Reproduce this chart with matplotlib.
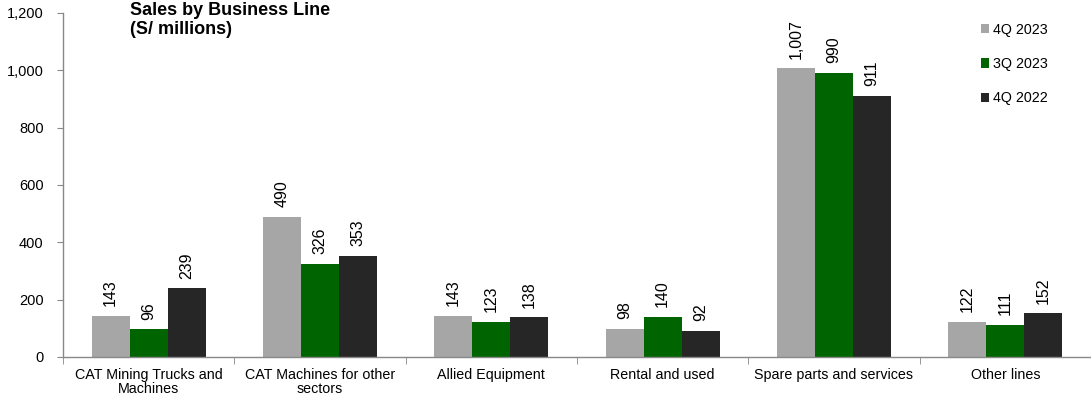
import matplotlib
matplotlib.use("Agg")
import matplotlib.pyplot as plt
from matplotlib.ticker import FuncFormatter, FixedLocator
from matplotlib.patches import Patch
import numpy as np

plt.rcParams['font.family'] = ['Liberation Sans', 'DejaVu Sans']

categories = ["CAT Mining Trucks and\nMachines", "CAT Machines for other\nsectors",
              "Allied Equipment", "Rental and used", "Spare parts and services",
              "Other lines"]
series_names = ["4Q 2023", "3Q 2023", "4Q 2022"]
q4_2023 = [143, 490, 143, 98, 1007, 122]
q3_2023 = [96, 326, 123, 140, 990, 111]
q4_2022 = [239, 353, 138, 92, 911, 152]
colors = ["#A6A6A6", "#006400", "#262626"]

fig = plt.figure(figsize=(10.91, 4.01), dpi=100)
ax = fig.add_axes([63/1091, 1-357/401, 1-63/1091, (357-13)/401])

x = np.arange(len(categories))
width = 0.222
for i, (vals, col, name) in enumerate(zip([q4_2023, q3_2023, q4_2022], colors, series_names)):
    pos = x + (i - 1) * width
    bars = ax.bar(pos, vals, width, color=col, edgecolor="none", label=name)
    for b, v in zip(bars, vals):
        ax.annotate(f"{v:,}", (b.get_x() + b.get_width()/2, v),
                    xytext=(0, 7), textcoords="offset points",
                    rotation=90, ha="center", va="bottom", fontsize=11.5, color="#000000")

ax.set_xlim(-0.5, len(categories) - 0.5)
ax.set_ylim(0, 1200)
ax.set_yticks(range(0, 1201, 200))
ax.yaxis.set_major_formatter(FuncFormatter(lambda v, p: f"{int(v):,}"))
ax.tick_params(axis="y", labelsize=10.5, length=4, color="#888888", pad=10)

ax.set_xticks(x)
ax.set_xticklabels(categories, fontsize=10.3, linespacing=1.0)
ax.tick_params(axis="x", length=0, pad=8)
ax.xaxis.set_minor_locator(FixedLocator(np.arange(-0.5, len(categories), 1.0)))
ax.tick_params(axis="x", which="minor", length=5, color="#888888")

for s in ["top", "right"]:
    ax.spines[s].set_visible(False)
for s in ["left", "bottom"]:
    ax.spines[s].set_color("#888888")
    ax.spines[s].set_linewidth(1.0)

fig.text(130/1091, 1-2/401, "Sales by Business Line\n(S/ millions)", fontsize=13,
         fontweight="bold", ha="left", va="top", linespacing=1.15)

handles = [Patch(facecolor=c, edgecolor="none") for c in colors]
ax.legend(handles, series_names, loc="upper left", bbox_to_anchor=(968/1091, 1-10/401),
          bbox_transform=fig.transFigure, frameon=False, fontsize=10.3,
          handlelength=0.6, handleheight=0.6, handletextpad=0.25, labelspacing=1.41)

fig.savefig("out.png", dpi=100)
